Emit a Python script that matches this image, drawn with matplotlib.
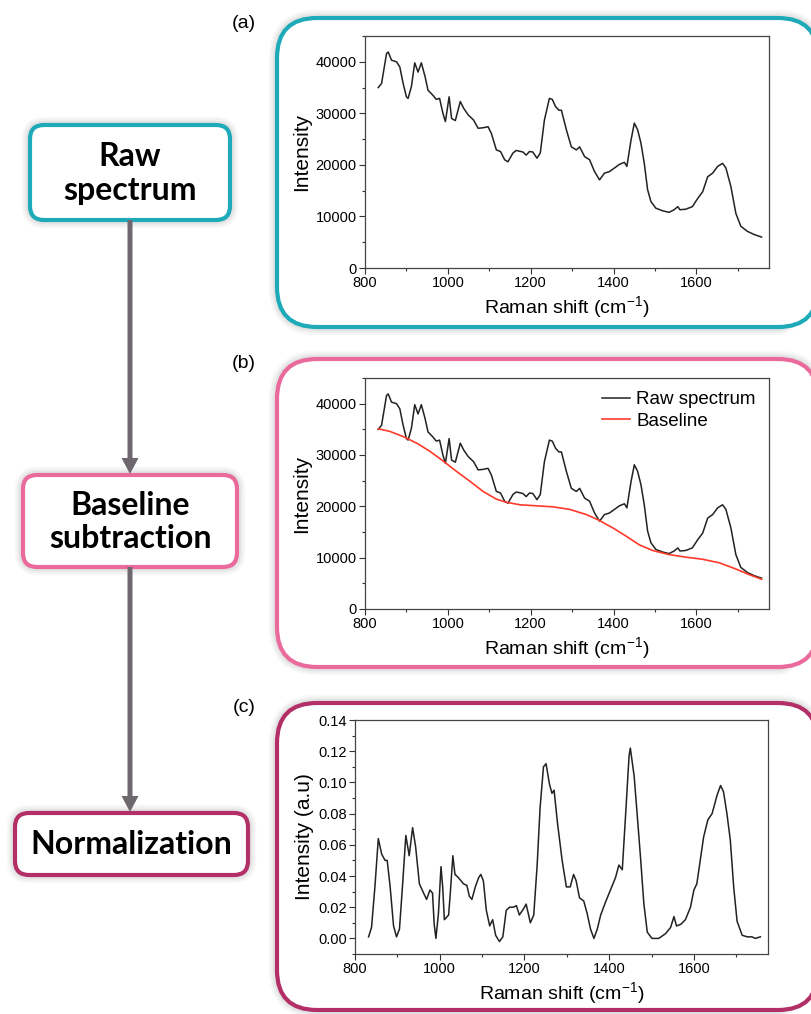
import matplotlib
matplotlib.use("Agg")
import matplotlib.pyplot as plt
from matplotlib.patches import FancyBboxPatch, FancyArrow
from matplotlib.ticker import MultipleLocator, FormatStrFormatter

plt.rcParams['font.family'] = ['Liberation Sans', 'DejaVu Sans']
plt.rcParams['mathtext.default'] = 'regular'

# raw Raman spectrum (panels a and b)
raw_x = [832, 840, 852, 856, 864, 876, 884, 892, 900, 904, 912, 920, 928, 936, 945,
         952, 964, 972, 980, 988, 994, 1003, 1009, 1018, 1030, 1038, 1049, 1062, 1073,
         1085, 1097, 1105, 1117, 1127, 1137, 1145, 1157, 1165, 1181, 1189, 1197, 1205,
         1215, 1223, 1233, 1245, 1252, 1260, 1268, 1274, 1286, 1298, 1310, 1318, 1330,
         1342, 1354, 1366, 1378, 1390, 1402, 1414, 1426, 1432, 1442, 1450, 1458, 1466,
         1474, 1482, 1490, 1502, 1518, 1534, 1546, 1555, 1560, 1574, 1590, 1603, 1615,
         1627, 1639, 1651, 1663, 1671, 1683, 1695, 1707, 1723, 1739, 1757]
raw_y = [35000, 35800, 41600, 41900, 40300, 40000, 39000, 35800, 33200, 32900, 35200,
         39800, 38000, 39800, 37100, 34500, 33500, 32700, 32900, 30000, 28400, 33200,
         29000, 28600, 32300, 31000, 29700, 28700, 27100, 27200, 27400, 26100, 22900,
         22600, 21000, 20600, 22300, 22800, 22500, 21900, 22600, 22500, 21300, 22300,
         28700, 32900, 32700, 31300, 30600, 30600, 26800, 23500, 22900, 23500, 21600,
         21000, 18700, 17100, 18400, 18700, 19400, 20100, 20500, 19700, 24800, 28100,
         26800, 24200, 20300, 15200, 12900, 11600, 11100, 10800, 11300, 11900, 11300,
         11400, 11900, 13500, 14800, 17700, 18400, 19700, 20300, 19400, 15800, 10600,
         8100, 7100, 6500, 6000]

# fitted baseline (panel b)
base_x = [832, 860, 892, 925, 957, 989, 1021, 1053, 1085, 1117, 1141, 1174, 1214, 1254,
          1294, 1334, 1362, 1398, 1430, 1462, 1494, 1534, 1574, 1614, 1655, 1695, 1727,
          1757]
base_y = [35100, 34600, 33600, 32300, 30700, 28800, 26800, 24900, 22900, 21400, 20800,
          20300, 20100, 19900, 19400, 18400, 17400, 15800, 14200, 12500, 11400, 10600,
          10100, 9700, 9000, 7800, 6700, 5800]

# baseline-subtracted, normalised spectrum (panel c)
norm_x = [832, 839, 847, 855, 863, 871, 876, 883, 891, 898, 905, 913, 920, 928, 936,
          943, 952, 962, 969, 977, 983, 987, 991, 997, 1003, 1007, 1011, 1021, 1025,
          1031, 1036, 1044, 1056, 1064, 1070, 1076, 1084, 1092, 1097, 1103, 1110, 1118,
          1125, 1132, 1141, 1149, 1157, 1165, 1174, 1181, 1188, 1198, 1204, 1214, 1222,
          1230, 1237, 1245, 1251, 1259, 1265, 1270, 1278, 1289, 1299, 1308, 1316, 1322,
          1330, 1340, 1348, 1356, 1364, 1372, 1380, 1391, 1403, 1415, 1423, 1431, 1439,
          1447, 1450, 1459, 1466, 1474, 1482, 1490, 1501, 1517, 1533, 1545, 1553, 1559,
          1569, 1580, 1592, 1600, 1607, 1615, 1623, 1633, 1643, 1655, 1663, 1670, 1678,
          1686, 1694, 1702, 1714, 1726, 1737, 1745, 1757]
norm_y = [0.001, 0.007, 0.033, 0.064, 0.054, 0.050, 0.050, 0.033, 0.008, 0.001, 0.006,
          0.037, 0.066, 0.053, 0.071, 0.059, 0.035, 0.029, 0.025, 0.031, 0.029, 0.009,
          0.000, 0.016, 0.046, 0.033, 0.012, 0.015, 0.029, 0.053, 0.041, 0.039, 0.035,
          0.034, 0.027, 0.025, 0.033, 0.039, 0.041, 0.037, 0.018, 0.008, 0.012, 0.002,
          -0.002, 0.001, 0.018, 0.020, 0.020, 0.021, 0.015, 0.019, 0.022, 0.010, 0.015,
          0.047, 0.084, 0.110, 0.112, 0.099, 0.093, 0.095, 0.074, 0.050, 0.033, 0.033,
          0.041, 0.037, 0.026, 0.024, 0.016, 0.006, 0.000, 0.006, 0.015, 0.023, 0.031,
          0.039, 0.047, 0.044, 0.080, 0.117, 0.122, 0.104, 0.080, 0.052, 0.022, 0.004,
          0.000, 0.000, 0.003, 0.007, 0.014, 0.008, 0.009, 0.012, 0.020, 0.031, 0.035,
          0.050, 0.065, 0.076, 0.080, 0.092, 0.098, 0.094, 0.080, 0.063, 0.033, 0.011,
          0.002, 0.001, 0.001, 0.000, 0.001]

steps = ["Raw\nspectrum", "Baseline\nsubtraction", "Normalization"]
colors = ["#1eaab8", "#ea6a9c", "#b32f67"]
panel_tags = ["(a)", "(b)", "(c)"]

W, H = 812, 1014
fig = plt.figure(figsize=(W / 100, H / 100), dpi=100)

# background layer in pixel units for boxes and arrows
bg = fig.add_axes([0, 0, 1, 1], zorder=0)
bg.set_xlim(0, W)
bg.set_ylim(H, 0)
bg.axis("off")


def rounded_box(x0, y0, x1, y1, color, r):
    for lw, a in [(12, 0.05), (9, 0.07), (6, 0.1)]:
        bg.add_patch(FancyBboxPatch((x0, y0), x1 - x0, y1 - y0,
                                    boxstyle=f"round,pad=0,rounding_size={r}",
                                    fc="none", ec="#808080", lw=lw, alpha=a))
    bg.add_patch(FancyBboxPatch((x0, y0), x1 - x0, y1 - y0,
                                boxstyle=f"round,pad=0,rounding_size={r}",
                                fc="white", ec=color, lw=3))


# panel frames (right side runs off the figure edge)
panel_boxes = [(277, 18, 818, 327), (277, 359, 818, 667), (277, 703, 818, 1010)]
for (x0, y0, x1, y1), c, tag in zip(panel_boxes, colors, panel_tags):
    rounded_box(x0, y0, x1, y1, c, 40)
    bg.text(244, y0 + 5, tag, fontsize=14, ha="center", va="center")

# flow chart boxes
flow_boxes = [(30, 125, 230, 220), (23, 475, 237, 567), (15, 813, 248, 875)]
for (x0, y0, x1, y1), c, s in zip(flow_boxes, colors, steps):
    rounded_box(x0, y0, x1, y1, c, 14)
    bg.text((x0 + x1) / 2, (y0 + y1) / 2 + 1, s, fontsize=23, fontweight="bold",
            family=["Lato", "DejaVu Sans"], ha="center", va="center",
            linespacing=1.2)

for ya, yb in [(220, 475), (567, 813)]:
    bg.add_patch(FancyArrow(130, ya, 0, yb - ya - 1, width=5, head_width=17,
                            head_length=16, length_includes_head=True,
                            fc="#6e686e", ec="none"))


def make_axes(l, t, r, b):
    return fig.add_axes([l / W, 1 - b / H, (r - l) / W, (b - t) / H], zorder=2)


def style(ax):
    ax.set_xlim(800, 1775)
    ax.xaxis.set_major_locator(MultipleLocator(200))
    ax.xaxis.set_minor_locator(MultipleLocator(100))
    ax.tick_params(which="both", direction="out", labelsize=10.5, pad=2, color="#333333")
    ax.tick_params(which="major", length=4, width=0.8)
    ax.tick_params(which="minor", length=2.5, width=0.8)
    for s in ax.spines.values():
        s.set_color("#444444")
        s.set_linewidth(0.9)
    ax.set_xlabel("Raman shift (cm$^{-1}$)", fontsize=14, labelpad=3)


ax1 = make_axes(365, 36, 769, 268)
ax1.plot(raw_x, raw_y, color="#222222", lw=1.1)
ax1.set_ylim(0, 45000)
ax1.yaxis.set_major_locator(MultipleLocator(10000))
ax1.yaxis.set_minor_locator(MultipleLocator(5000))
ax1.set_ylabel("Intensity", fontsize=15, labelpad=3)
style(ax1)

ax2 = make_axes(365, 378, 769, 609)
ax2.plot(raw_x, raw_y, color="#222222", lw=1.1, label="Raw spectrum")
ax2.plot(base_x, base_y, color="#ff3a2a", lw=1.2, label="Baseline")
ax2.set_ylim(0, 45000)
ax2.yaxis.set_major_locator(MultipleLocator(10000))
ax2.yaxis.set_minor_locator(MultipleLocator(5000))
ax2.set_ylabel("Intensity", fontsize=15, labelpad=3)
ax2.legend(loc="upper right", frameon=False, fontsize=13.5, handlelength=1.5,
           handletextpad=0.35, labelspacing=0.25, borderaxespad=0.3)
style(ax2)

ax3 = make_axes(355, 720, 768, 954)
ax3.plot(norm_x, norm_y, color="#222222", lw=1.1)
ax3.set_ylim(-0.01, 0.14)
ax3.yaxis.set_major_locator(MultipleLocator(0.02))
ax3.yaxis.set_minor_locator(MultipleLocator(0.01))
ax3.yaxis.set_major_formatter(FormatStrFormatter("%.2f"))
ax3.set_ylabel("Intensity (a.u)", fontsize=15, labelpad=3)
style(ax3)

fig.savefig("out.png", dpi=100)
